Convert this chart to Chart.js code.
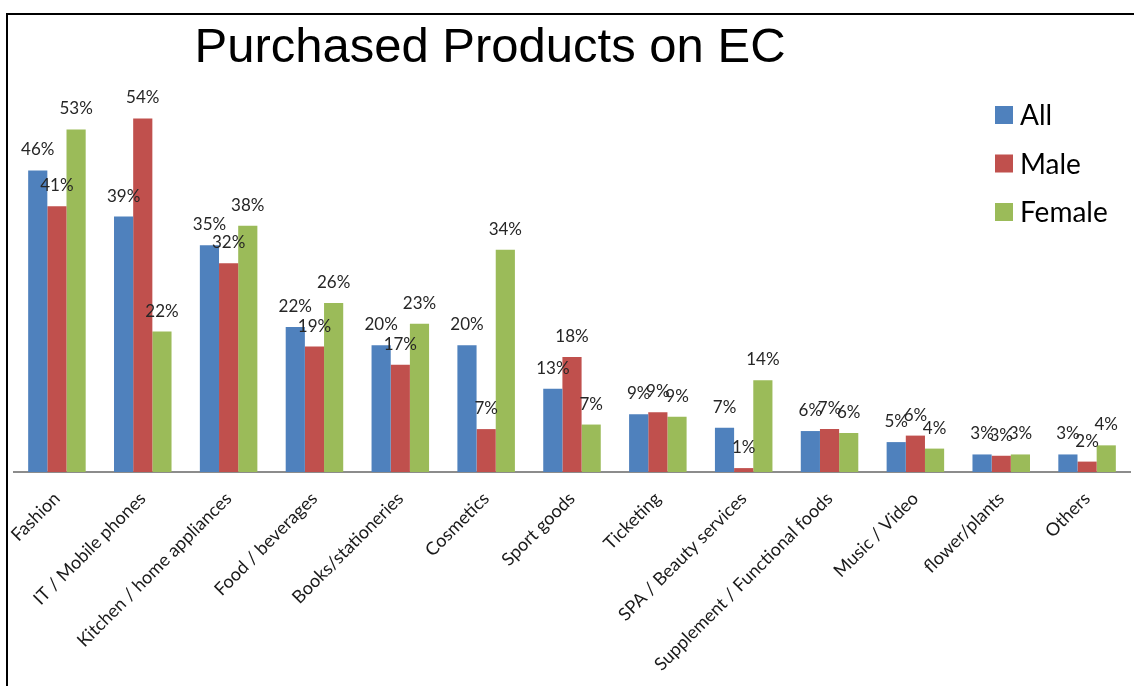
<!DOCTYPE html>
<html>
<head>
<meta charset="utf-8">
<script src="https://cdn.jsdelivr.net/npm/chart.js@4.4.1/dist/chart.umd.min.js"></script>
<style>
  html, body { margin: 0; padding: 0; background: #fff; }
  #wrap { position: relative; width: 1134px; height: 686px; }
  #frame { position: absolute; left: 6px; top: 13px; right: 0; bottom: 0;
           border-left: 2px solid #000; border-top: 2px solid #000; pointer-events: none; }
</style>
</head>
<body>
<div id="wrap">
  <canvas id="ec-chart" width="1134" height="686"></canvas>
  <div id="frame"></div>
</div>
<script>
const categories = ['Fashion', 'IT / Mobile phones', 'Kitchen / home appliances', 'Food / beverages',
  'Books/stationeries', 'Cosmetics', 'Sport goods', 'Ticketing', 'SPA / Beauty services',
  'Supplement / Functional foods', 'Music / Video', 'flower/plants', 'Others'];
const allValues    = [46.4, 39.3, 34.9, 22.3, 19.5, 19.5, 12.8, 8.9, 6.8, 6.3, 4.6, 2.7, 2.7];
const maleValues   = [40.9, 54.4, 32.1, 19.3, 16.5, 6.6, 17.7, 9.2, 0.6, 6.6, 5.6, 2.5, 1.6];
const femaleValues = [52.7, 21.6, 37.9, 26.0, 22.8, 34.2, 7.3, 8.5, 14.1, 6.0, 3.6, 2.7, 4.1];
const chartTitle = 'Purchased Products on EC';

Chart.defaults.font.family = 'Lato';

// value labels above each bar
const barLabels = {
  id: 'barLabels',
  afterDatasetsDraw(chart) {
    const ctx = chart.ctx;
    ctx.save();
    ctx.font = '17px Lato';
    ctx.fillStyle = '#262626';
    ctx.textAlign = 'center';
    ctx.textBaseline = 'bottom';
    chart.data.datasets.forEach((ds, i) => {
      chart.getDatasetMeta(i).data.forEach((bar, j) => {
        ctx.fillText(Math.round(ds.data[j]) + '%', bar.x, bar.y - 12);
      });
    });
    ctx.restore();
  }
};

// title and legend floating over the plot like the original
const overlay = {
  id: 'overlay',
  afterDraw(chart) {
    const ctx = chart.ctx;
    ctx.save();
    ctx.fillStyle = '#000';
    ctx.font = '49px "Liberation Sans"';
    ctx.textAlign = 'center';
    ctx.textBaseline = 'alphabetic';
    ctx.fillText(chartTitle, 490, 62);

    ctx.font = '28px Lato';
    ctx.textAlign = 'left';
    ctx.textBaseline = 'middle';
    chart.data.datasets.forEach((ds, i) => {
      const y = 115 + i * 48.5;
      ctx.fillStyle = ds.backgroundColor;
      ctx.fillRect(995, y - 9, 18, 18);
      ctx.fillStyle = '#000';
      ctx.fillText(ds.label, 1020, y + 1);
    });
    ctx.restore();
  }
};

new Chart(document.getElementById('ec-chart'), {
  type: 'bar',
  data: {
    labels: categories,
    datasets: [
      { label: 'All', data: allValues, backgroundColor: '#4F81BD' },
      { label: 'Male', data: maleValues, backgroundColor: '#C0504D' },
      { label: 'Female', data: femaleValues, backgroundColor: '#9BBB59' }
    ]
  },
  options: {
    responsive: false,
    animation: false,
    layout: { padding: { left: 14, right: 4, top: 82, bottom: 0 } },
    datasets: { bar: { categoryPercentage: 0.67, barPercentage: 1.0 } },
    scales: {
      x: {
        grid: { display: false },
        border: { display: true, color: '#8c8c8c', width: 2 },
        ticks: { minRotation: 45, maxRotation: 45, autoSkip: false, padding: 8,
                 color: '#1a1a1a', font: { size: 18 } },
        afterFit(scale) { scale.height = 214; }
      },
      y: { display: false, min: 0, max: 60 }
    },
    plugins: {
      legend: { display: false },
      tooltip: { enabled: false }
    }
  },
  plugins: [barLabels, overlay]
});
</script>
</body>
</html>
